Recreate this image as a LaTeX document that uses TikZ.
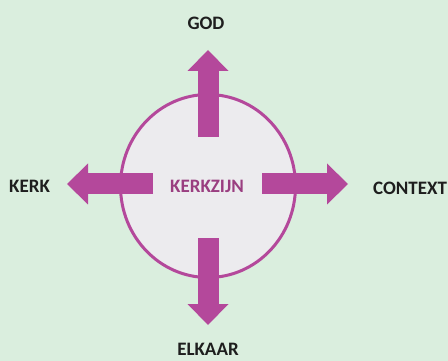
\documentclass[tikz,border=0pt]{standalone}
\usepackage{fontspec}
\setmainfont{Carlito}
\usetikzlibrary{arrows.meta,shapes.geometric}

\definecolor{mintbg}{HTML}{DAEEDE}
\definecolor{kzmagenta}{HTML}{B4489B}
\definecolor{kzfill}{HTML}{ECEBEE}
\definecolor{kztext}{HTML}{9A3E80}
\definecolor{labeltext}{HTML}{1E1E1E}

\tikzset{
  bigarrow/.style={draw=kzmagenta, line width=21pt,
    -{Triangle[length=21pt,width=41pt,line width=0pt,fill=kzmagenta]}},
  dirlabel/.style={font=\bfseries\fontsize{19}{19}\selectfont, text=labeltext, inner sep=0pt},
}

\begin{document}
\begin{tikzpicture}[x=1pt,y=-1pt]
\useasboundingbox (0,0) rectangle (448,361);
\fill[mintbg] (0,0) rectangle (448,361);

\node[ellipse, draw=kzmagenta, line width=3pt, fill=kzfill, minimum width=175pt, minimum height=183pt] (kring) at (208,186) {};
\node[dirlabel, text=kztext, anchor=base] (kerkzijn) at (207,193) {KERKZIJN};

\node[dirlabel, anchor=base] (god) at (206,30) {GOD};
\node[dirlabel, anchor=base west] (kerk) at (9,193) {KERK};
\node[dirlabel, anchor=base west] (context) at (373,194) {CONTEXT};
\node[dirlabel, anchor=base] (elkaar) at (208,355) {ELKAAR};

% staart / punt van elke pijl
\foreach \n/\tx/\ty/\px/\py in {god/208/137/208/50, kerk/153/184/67/184, context/262/184/348/184, elkaar/208/238/208/325}{
  \coordinate (\n tail) at (\tx,\ty);
  \coordinate (\n tip) at (\px,\py);
  \draw[bigarrow] (\n tail) -- (\n tip);
}
\end{tikzpicture}
\end{document}
